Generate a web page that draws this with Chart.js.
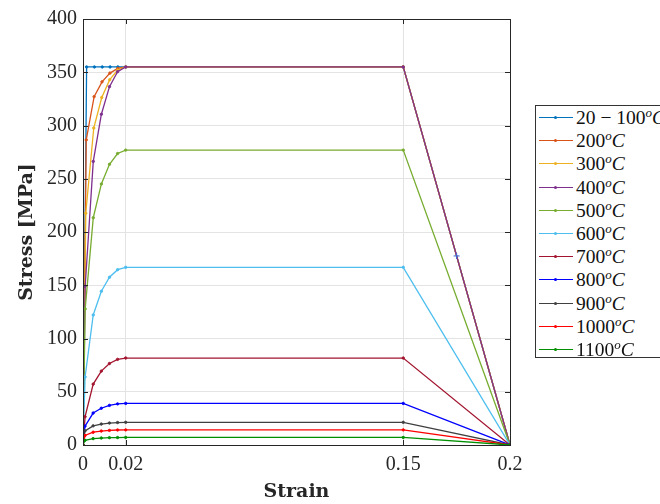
<!DOCTYPE html>
<html>
<head>
<meta charset="utf-8">
<script src="https://cdn.jsdelivr.net/npm/chart.js@4"></script>
<style>
  html, body { margin: 0; padding: 0; background: #fff; overflow: hidden; }
  #wrap { position: relative; width: 660px; height: 504px; }
  #legend {
    position: absolute; left: 535px; top: 105px; width: 140px; height: 253px;
    border: 1px solid #333; background: #fff; box-sizing: border-box;
    font-family: "Liberation Serif", serif; font-size: 19.5px; color: #111;
  }
  #legend .item { position: relative; height: 23.2px; line-height: 23.2px; white-space: nowrap; }
  #legend .swatch { position: absolute; left: 3px; top: 11px; width: 34px; height: 0; border-top: 1.5px solid; }
  #legend .dot { position: absolute; left: 18px; top: 10px; width: 3px; height: 3px; border-radius: 50%; }
  #legend .txt { position: absolute; left: 40px; top: 0; }
  #legend sup { font-size: 13px; vertical-align: 7px; line-height: 0; }
</style>
</head>
<body>
<div id="wrap">
  <canvas id="chart" width="660" height="504"></canvas>
  <div id="legend"></div>
</div>
<script>
// strain / stress points (EC3 steel curves, fy = 355 MPa)
const tempLabels = ['20 \u2212 100', '200', '300', '400', '500', '600', '700', '800', '900', '1000', '1100'];
const colors = ['#0072BD', '#D95319', '#EDB120', '#7E2F8E', '#77AC30', '#4DBEEE', '#A2142F', '#0000FF', '#404040', '#FF0000', '#008F00'];

const eps20  = [0, 0.0016905, 0.0053524, 0.0090143, 0.0126762, 0.0163381, 0.02, 0.15, 0.2];
const eps200 = [0, 0.0015158, 0.0052126, 0.0089095, 0.0126063, 0.0163032, 0.02, 0.15, 0.2];
const eps300 = [0, 0.0012953, 0.0050363, 0.0087772, 0.0125181, 0.0162591, 0.02, 0.15, 0.2];
const eps400 = [0, 0.0010143, 0.0048114, 0.0086086, 0.0124057, 0.0162029, 0.02, 0.15, 0.2];
const eps600 = [0, 0.0009816, 0.0047890, 0.0085964, 0.0124037, 0.0162111, 0.02, 0.15, 0.2];
const eps700 = [0, 0.0009753, 0.0047802, 0.0085851, 0.0123901, 0.0161951, 0.02, 0.15, 0.2];
const eps800 = [0, 0.0009392, 0.0047513, 0.0085635, 0.0123757, 0.0161878, 0.02, 0.15, 0.2];

const sig20   = [0, 355, 355, 355, 355, 355, 355, 355, 0];
const sig200  = [0, 286.5, 327.1, 341.0, 349.2, 353.6, 355, 355, 0];
const sig300  = [0, 217.6, 297.6, 326.3, 343.0, 352.1, 355, 355, 0];
const sig400  = [0, 149.1, 266.3, 310.6, 336.5, 350.5, 355, 355, 0];
const sig500  = [0, 127.8, 213.4, 245.1, 263.6, 273.7, 276.9, 276.9, 0];
const sig600  = [0, 63.9, 122.1, 144.4, 157.5, 164.6, 166.85, 166.85, 0];
const sig700  = [0, 26.6, 57.2, 69.4, 76.5, 80.4, 81.65, 81.65, 0];
const sig800  = [0, 17.75, 30.0, 34.5, 37.2, 38.6, 39.05, 39.05, 0];
const sig900  = [0, 13.3, 18.0, 19.65, 20.6, 21.1, 21.3, 21.3, 0];
const sig1000 = [0, 8.9, 12.0, 13.1, 13.7, 14.1, 14.2, 14.2, 0];
const sig1100 = [0, 4.4, 6.0, 6.55, 6.9, 7.0, 7.1, 7.1, 0];

const strainSets = [eps20, eps200, eps300, eps400, eps400, eps600, eps700, eps800, eps800, eps800, eps800];
const stressSets = [sig20, sig200, sig300, sig400, sig500, sig600, sig700, sig800, sig900, sig1000, sig1100];

// stray data-tip marker on the 400 C unloading branch
const tipStrain = [0.175];
const tipStress = [177.5];

const xTicks = [0, 0.02, 0.15, 0.2];
const yTicks = [0, 50, 100, 150, 200, 250, 300, 350, 400];

const datasets = stressSets.map(function (sig, i) {
    return {
        label: tempLabels[i],
        data: sig.map(function (s, k) { return { x: strainSets[i][k], y: s }; }),
        borderColor: colors[i],
        backgroundColor: colors[i],
        borderWidth: 1.3,
        pointRadius: 1.2,
        pointHoverRadius: 1.2,
        pointBorderWidth: 1,
        showLine: true,
        tension: 0,
        order: stressSets.length - i   // later series drawn on top, like MATLAB
    };
});
datasets.push({
    label: '',
    data: tipStrain.map(function (x, k) { return { x: x, y: tipStress[k] }; }),
    borderColor: '#3a66d8',
    backgroundColor: '#3a66d8',
    pointStyle: 'cross',
    pointRadius: 3,
    borderWidth: 1,
    showLine: false,
    order: 0,
    isTip: true
});

const frame = {
    id: 'frame',
    afterDraw: function (chart) {
        const ctx = chart.ctx;
        const a = chart.chartArea;
        const xs = chart.scales.x, ys = chart.scales.y;
        ctx.save();
        ctx.strokeStyle = '#262626';
        ctx.lineWidth = 1;
        ctx.strokeRect(Math.round(a.left) + 0.5, Math.round(a.top) + 0.5, Math.round(a.right - a.left), Math.round(a.bottom - a.top));
        ctx.beginPath();
        const len = 5;
        xTicks.forEach(function (v) {
            const px = Math.round(xs.getPixelForValue(v)) + 0.5;
            ctx.moveTo(px, a.bottom); ctx.lineTo(px, a.bottom - len);
            ctx.moveTo(px, a.top); ctx.lineTo(px, a.top + len);
        });
        yTicks.forEach(function (v) {
            const py = Math.round(ys.getPixelForValue(v)) + 0.5;
            ctx.moveTo(a.left, py); ctx.lineTo(a.left + len, py);
            ctx.moveTo(a.right, py); ctx.lineTo(a.right - len, py);
        });
        ctx.stroke();
        ctx.restore();
    }
};

const htmlLegend = {
    id: 'htmlLegend',
    afterUpdate: function (chart) {
        const box = document.getElementById('legend');
        box.innerHTML = '';
        chart.data.datasets.forEach(function (ds) {
            if (ds.isTip) return;
            const item = document.createElement('div');
            item.className = 'item';
            item.innerHTML = '<span class="swatch" style="border-color:' + ds.borderColor + '"></span>' +
                '<span class="dot" style="background:' + ds.borderColor + '"></span>' +
                '<span class="txt">' + ds.label + '<sup><i>o</i></sup><i>C</i></span>';
            box.appendChild(item);
        });
    }
};

const ctx = document.getElementById('chart').getContext('2d');
new Chart(ctx, {
    type: 'scatter',
    data: { datasets: datasets },
    options: {
        responsive: false,
        animation: false,
        layout: { padding: { left: 0, right: 150, top: 19, bottom: 0 } },
        plugins: {
            legend: { display: false },
            tooltip: { enabled: false }
        },
        scales: {
            x: {
                type: 'linear',
                min: 0,
                max: 0.2,
                afterBuildTicks: function (scale) {
                    scale.ticks = xTicks.map(function (v) { return { value: v }; });
                },
                afterFit: function (scale) { scale.height = 59; },
                grid: { color: '#e3e3e3', drawTicks: false },
                border: { color: '#262626' },
                ticks: {
                    padding: 8,
                    color: '#262626',
                    font: { family: 'Liberation Serif', size: 20 },
                    callback: function (v) { return String(v); }
                },
                title: {
                    display: true,
                    text: 'Strain',
                    color: '#262626',
                    font: { family: 'DejaVu Serif', size: 19, weight: 'bold' },
                    padding: { top: 0, bottom: 1 }
                }
            },
            y: {
                min: 0,
                max: 400,
                afterBuildTicks: function (scale) {
                    scale.ticks = yTicks.map(function (v) { return { value: v }; });
                },
                afterFit: function (scale) { scale.width = 83; },
                grid: { color: '#e3e3e3', drawTicks: false },
                border: { color: '#262626' },
                ticks: {
                    padding: 6,
                    color: '#262626',
                    font: { family: 'Liberation Serif', size: 20 }
                },
                title: {
                    display: true,
                    text: 'Stress [MPa]',
                    color: '#262626',
                    font: { family: 'DejaVu Serif', size: 19, weight: 'bold' },
                    padding: { top: 16, bottom: 0 }
                }
            }
        }
    },
    plugins: [frame, htmlLegend]
});
</script>
</body>
</html>
